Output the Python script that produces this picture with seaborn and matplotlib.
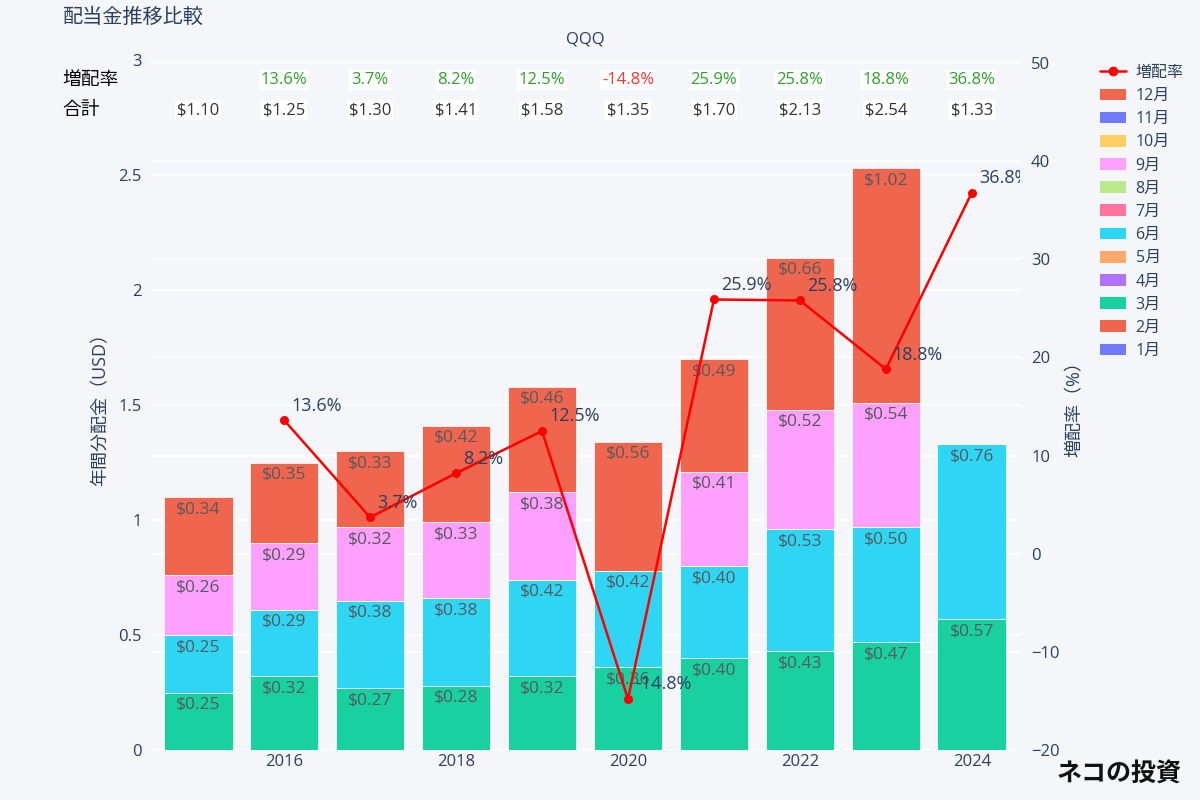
import matplotlib
matplotlib.use("Agg")
import matplotlib.pyplot as plt
import matplotlib.transforms as mtransforms
from matplotlib.patches import Patch
from matplotlib.lines import Line2D
import seaborn as sns
import pandas as pd
import numpy as np

# ---------------- data ----------------
years = [2015, 2016, 2017, 2018, 2019, 2020, 2021, 2022, 2023, 2024]
months = ["1月", "2月", "3月", "4月", "5月", "6月", "7月", "8月", "9月", "10月", "11月", "12月"]
mar = [0.25, 0.32, 0.27, 0.28, 0.32, 0.36, 0.40, 0.43, 0.47, 0.57]
jun = [0.25, 0.29, 0.38, 0.38, 0.42, 0.42, 0.40, 0.53, 0.50, 0.76]
sep = [0.26, 0.29, 0.32, 0.33, 0.38, 0.00, 0.41, 0.52, 0.54, 0.00]
dec = [0.34, 0.35, 0.33, 0.42, 0.46, 0.56, 0.49, 0.66, 1.02, 0.00]
zeros = [0.0] * 10
totals = [1.10, 1.25, 1.30, 1.41, 1.58, 1.35, 1.70, 2.13, 2.54, 1.33]
growth = [np.nan, 13.6, 3.7, 8.2, 12.5, -14.8, 25.9, 25.8, 18.8, 36.8]
growth_labels = ["", "13.6%", "3.7%", "8.2%", "12.5%", "-14.8%", "25.9%", "25.8%", "18.8%", "36.8%"]
month_values = [zeros, zeros, mar, zeros, zeros, jun, zeros, zeros, sep, zeros, zeros, dec]
month_colors = ["#636EFA", "#EF553B", "#00CC96", "#AB63FA", "#FFA15A", "#19D3F3",
                "#FF6692", "#B6E880", "#FF97FF", "#FECB52", "#636EFA", "#EF553B"]

# ---------------- style ----------------
BG = "#F5F6FA"
TXT = "#2a3f5f"
sns.set_theme(style="white")
plt.rcParams["font.family"] = ["Open Sans", "Noto Sans CJK JP", "DejaVu Sans"]
plt.rcParams["axes.unicode_minus"] = True

fig = plt.figure(figsize=(12, 8), dpi=100, facecolor=BG)
ax = fig.add_axes([0.125, 0.0625, 0.725, 0.8625])
ax.set_facecolor(BG)
for s in ax.spines.values():
    s.set_visible(False)

Y2MIN, Y2MAX = -20, 50.3
ax.set_ylim(0, 3)
ax.set_xlim(2014.44, 2024.56)

# grid lines (left and right axes) beneath the bars
for v in np.arange(0, 3.01, 0.5):
    ax.axhline(v, color="white", lw=1.2, zorder=0)
for v in range(-10, 51, 10):
    ax.axhline((v - Y2MIN) / (Y2MAX - Y2MIN) * 3, color="white", lw=1.2, zorder=0)

# stacked bars
bottom = np.zeros(len(years))
for m, vals, c in zip(months, month_values, month_colors):
    vals = np.array(vals)
    ax.bar(years, vals, bottom=bottom, width=0.8, color=c, alpha=0.9,
           edgecolor="#ffffff", linewidth=0.6, zorder=2)
    for x, b, v in zip(years, bottom, vals):
        if v > 0:
            ax.annotate(f"${v:.2f}", (x, b + v), xytext=(0, -3), textcoords="offset points",
                        ha="center", va="top", fontsize=12.5, color="#58595e", zorder=3)
    bottom = bottom + vals

ax.set_yticks(np.arange(0, 3.01, 0.5))
ax.set_yticklabels(["0", "0.5", "1", "1.5", "2", "2.5", "3"])
ax.set_xticks([2016, 2018, 2020, 2022, 2024])
ax.tick_params(axis="both", length=0, labelsize=12, colors=TXT)
ax.tick_params(axis="x", pad=3)
ax.tick_params(axis="y", pad=6)
ax.set_ylabel("年間分配金（USD）", fontsize=13, color=TXT, labelpad=6)

# secondary axis with growth rate line
ax2 = ax.twinx()
ax2.set_ylim(Y2MIN, Y2MAX)
for s in ax2.spines.values():
    s.set_visible(False)
ax2.grid(False)
ax2.set_yticks(range(-20, 51, 10))
ax2.tick_params(axis="y", length=0, labelsize=12, colors=TXT, pad=8)
gdf = pd.DataFrame({"year": years, "growth": growth})
sns.lineplot(data=gdf, x="year", y="growth", ax=ax2, color="#FF0000", lw=1.8,
             marker="o", markersize=6.5, markeredgewidth=0, legend=False)
for x, g, lab in zip(years, growth, growth_labels):
    if lab:
        ax2.annotate(lab, (x, g), xytext=(5, 4), textcoords="offset points",
                     ha="left", va="bottom", fontsize=13, color=TXT, annotation_clip=False,
                     clip_on=True)
ax2.set_ylabel("増配率（%）", fontsize=13, color=TXT, rotation=90, labelpad=4)
ax2.yaxis.set_label_position("right")
ax2.set_xlim(2014.44, 2024.56)
ax2.set_xlabel("")

# header rows
trans = mtransforms.blended_transform_factory(ax.transData, fig.transFigure)
fig.text(0.052, 1 - 80 / 800, "増配率", fontsize=13.5, color="black", va="center", ha="left")
fig.text(0.052, 1 - 110 / 800, "合計", fontsize=13.5, color="black", va="center", ha="left")
for x, lab, g in zip(years, growth_labels, growth):
    if lab:
        col = "#2ca02c" if g >= 0 else "#ff3333"
        ax.text(x, 1 - 80 / 800, lab, transform=trans, ha="center", va="center",
                fontsize=12, color=col, clip_on=False,
                bbox=dict(facecolor="white", edgecolor="none", pad=1.5))
for x, t in zip(years, totals):
    ax.text(x, 1 - 110 / 800, f"${t:.2f}", transform=trans, ha="center", va="center",
            fontsize=12, color="#333333", clip_on=False,
            bbox=dict(facecolor="white", edgecolor="none", pad=1.5))

# titles
fig.text(0.052, 1 - 18 / 800, "配当金推移比較", fontsize=14.5, color=TXT, va="center", ha="left")
fig.text(0.4875, 1 - 40 / 800, "QQQ", fontsize=12, color=TXT, va="center", ha="center")

# legend
handles = [Line2D([0], [0], color="#FF0000", lw=1.8, marker="o", markersize=6)]
labels = ["増配率"]
for m, c in reversed(list(zip(months, month_colors))):
    handles.append(Patch(facecolor=c, alpha=0.9, edgecolor="none"))
    labels.append(m)
fig.legend(handles, labels, loc="upper left", bbox_to_anchor=(0.905, 0.937),
           frameon=False, fontsize=11.5, labelcolor=TXT, handlelength=1.6,
           handleheight=0.75, labelspacing=0.45, handletextpad=0.6)

# logo
fig.text(0.985, 1 - 775 / 800, "ネコの投資", fontsize=18, fontweight="bold",
         color="#111111", va="center", ha="right", family=["Noto Sans CJK JP"])

fig.savefig("out.png", dpi=100, facecolor=BG)
